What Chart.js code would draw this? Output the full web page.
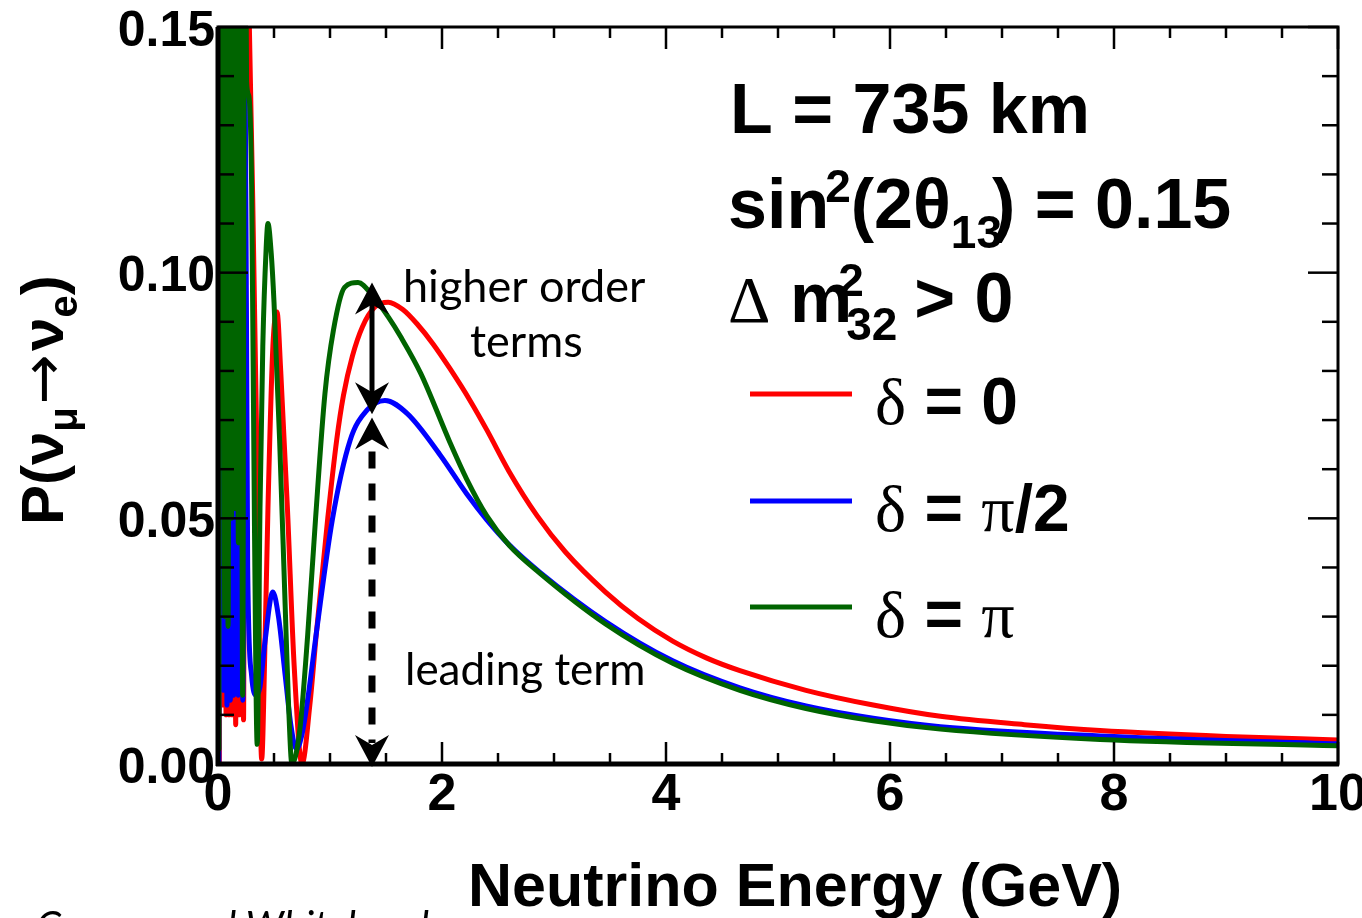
<!DOCTYPE html>
<html>
<head>
<meta charset="utf-8">
<script src="https://cdn.jsdelivr.net/npm/chart.js@4.4.1/dist/chart.umd.min.js"></script>
<style>
  html, body { margin: 0; padding: 0; background: #fff; }
  #wrap { width: 1362px; height: 918px; }
</style>
</head>
<body>
<div id="wrap"><canvas id="osc"></canvas></div>
<script>
// neutrino energy (GeV) and appearance probability
const redE = [0.012, 0.025, 0.040, 0.058, 0.072, 0.088, 0.100, 0.115, 0.128, 0.142,
              0.158, 0.172, 0.190, 0.207, 0.228, 0.245, 0.280, 0.310, 0.350, 0.390,
              0.420, 0.446, 0.490, 0.527, 0.560, 0.620, 0.680, 0.750, 0.820, 0.880,
              0.980, 1.060, 1.120, 1.200, 1.290, 1.400, 1.520, 1.650, 1.780, 1.920,
              2.070, 2.250, 2.400, 2.600, 2.850, 3.100, 3.460, 3.750, 4.060, 4.360,
              4.660, 5.250, 5.850, 6.450, 7.200, 7.875, 9.000, 10.00];
const redP = [0.000, 0.200, 0.012, 0.200, 0.010, 0.200, 0.010, 0.200, 0.010, 0.200,
              0.008, 0.200, 0.010, 0.200, 0.009, 0.200, 0.150, 0.115, 0.060, 0.001,
              0.025, 0.052, 0.085, 0.092, 0.080, 0.052, 0.020, 0.000, 0.012, 0.027,
              0.050, 0.066, 0.075, 0.083, 0.089, 0.093, 0.094, 0.0925, 0.0895, 0.0855,
              0.0805, 0.0740, 0.0680, 0.0595, 0.0505, 0.0432, 0.0350, 0.0296, 0.0250, 0.0216,
              0.0190, 0.0150, 0.0120, 0.0097, 0.0080, 0.0068, 0.0056, 0.0049];

const blueE = [0.008, 0.015, 0.025, 0.035, 0.050, 0.065, 0.080, 0.095, 0.110, 0.125,
               0.140, 0.160, 0.180, 0.200, 0.222, 0.240, 0.265, 0.300, 0.340, 0.375,
               0.420, 0.490, 0.540, 0.600, 0.650, 0.700, 0.750, 0.800, 0.880, 1.020,
               1.180, 1.330, 1.490, 1.690, 1.980, 2.220, 2.400, 2.600, 2.875, 3.460,
               4.060, 4.660, 5.250, 5.850, 6.450, 7.875, 10.00];
const blueP = [0.000, 0.200, 0.066, 0.200, 0.015, 0.200, 0.012, 0.200, 0.013, 0.200,
               0.014, 0.200, 0.014, 0.200, 0.013, 0.150, 0.040, 0.018, 0.014, 0.0157,
               0.025, 0.035, 0.030, 0.018, 0.008, 0.003, 0.006, 0.013, 0.027, 0.0496,
               0.0659, 0.072, 0.074, 0.0713, 0.0630, 0.0550, 0.0497, 0.0446, 0.0390, 0.0290,
               0.0210, 0.0155, 0.0118, 0.0093, 0.0076, 0.0057, 0.0041];

const greenE = [0.008, 0.018, 0.032, 0.045, 0.060, 0.075, 0.090, 0.105, 0.120, 0.135,
                0.150, 0.165, 0.182, 0.200, 0.220, 0.240, 0.255, 0.275, 0.300, 0.325,
                0.350, 0.375, 0.400, 0.430, 0.446, 0.475, 0.500, 0.550, 0.600, 0.630,
                0.660, 0.730, 0.800, 0.870, 0.955, 1.030, 1.130, 1.250, 1.375, 1.520,
                1.630, 1.810, 2.070, 2.220, 2.400, 2.600, 2.875, 3.460, 4.060, 4.660,
                5.250, 5.850, 6.450, 7.875, 10.00];
const greenP = [0.003, 0.200, 0.095, 0.200, 0.030, 0.200, 0.028, 0.200, 0.050, 0.200,
                0.052, 0.200, 0.045, 0.200, 0.014, 0.200, 0.139, 0.136, 0.118, 0.050,
                0.004, 0.052, 0.085, 0.105, 0.110, 0.104, 0.094, 0.066, 0.032, 0.012,
                0.000, 0.0069, 0.026, 0.0496, 0.0754, 0.0882, 0.097, 0.098, 0.0955, 0.091,
                0.087, 0.0795, 0.0655, 0.0580, 0.0505, 0.0445, 0.0388, 0.0285, 0.0205, 0.0150,
                0.0113, 0.0088, 0.0071, 0.0050, 0.0037];

const xTickVals = [0, 2, 4, 6, 8, 10];
const xTickLabels = ['0', '2', '4', '6', '8', '10'];
const yTickVals = [0, 0.05, 0.10, 0.15];
const yTickLabels = ['0.00', '0.05', '0.10', '0.15'];

// where the two arrows sit (GeV, probability)
const arrowE = 1.375;
const solidArrow = [0.098, 0.0712];
const dashedArrow = [0.0705, -0.0006];

const SANS = '"Liberation Sans", Arial, sans-serif';
const SERIF = '"Liberation Serif", "Times New Roman", serif';
const GILL = 'Lato, "Open Sans", sans-serif';

function toPoints(xs, ys) {
    return xs.map((v, i) => ({ x: v, y: ys[i] }));
}

function rich(ctx, x, y, parts) {
    let cx = x;
    parts.forEach(p => {
        ctx.font = p.f;
        const dx = p.dx || 0;
        ctx.fillText(p.t, cx + dx, y + (p.dy || 0));
        cx += dx + ctx.measureText(p.t).width + (p.adv || 0);
    });
    return cx;
}

function arrowHead(ctx, x, yTip, dir) {
    // dir = -1 points up, +1 points down
    const L = 32, W = 17, N = 22;
    ctx.beginPath();
    ctx.moveTo(x, yTip);
    ctx.lineTo(x - W, yTip - dir * L);
    ctx.lineTo(x, yTip - dir * N);
    ctx.lineTo(x + W, yTip - dir * L);
    ctx.closePath();
    ctx.fill();
}

const frame = {
    id: 'frame',
    afterDatasetsDraw(chart) {
        const { ctx, chartArea: a, scales: { x, y } } = chart;
        ctx.save();
        ctx.strokeStyle = '#000';
        ctx.lineWidth = 2.5;
        const seg = (x1, y1, x2, y2) => {
            ctx.beginPath(); ctx.moveTo(x1, y1); ctx.lineTo(x2, y2); ctx.stroke();
        };
        for (let i = 0; i <= 20; i++) {
            const px = x.getPixelForValue(i * 0.5);
            const len = i % 4 === 0 ? 22 : 11;
            seg(px, a.bottom, px, a.bottom - len);
            seg(px, a.top, px, a.top + len);
        }
        for (let i = 0; i <= 15; i++) {
            const py = y.getPixelForValue(i * 0.01);
            const len = i % 5 === 0 ? 30 : 16;
            seg(a.left, py, a.left + len, py);
            seg(a.right, py, a.right - len, py);
        }
        ctx.lineWidth = 3;
        ctx.strokeRect(a.left, a.top, a.right - a.left, a.bottom - a.top);
        ctx.lineWidth = 5;
        seg(a.left - 2, a.bottom, a.right + 1, a.bottom);
        seg(a.left, a.top, a.left, a.bottom + 2);
        ctx.restore();
    },
    afterDraw(chart) {
        const { ctx, scales: { x, y } } = chart;
        ctx.save();
        ctx.fillStyle = '#000';
        ctx.strokeStyle = '#000';
        ctx.textBaseline = 'alphabetic';
        ctx.textAlign = 'left';

        // arrows
        const ax = x.getPixelForValue(arrowE);
        const s1 = y.getPixelForValue(solidArrow[0]), s2 = y.getPixelForValue(solidArrow[1]);
        ctx.lineWidth = 5;
        ctx.beginPath(); ctx.moveTo(ax, s1 + 20); ctx.lineTo(ax, s2 - 20); ctx.stroke();
        arrowHead(ctx, ax, s1, -1);
        arrowHead(ctx, ax, s2, 1);
        const d1 = y.getPixelForValue(dashedArrow[0]), d2 = y.getPixelForValue(dashedArrow[1]);
        ctx.lineWidth = 7;
        ctx.setLineDash([17, 15]);
        ctx.beginPath(); ctx.moveTo(ax, d1 + 34); ctx.lineTo(ax, d2 - 24); ctx.stroke();
        ctx.setLineDash([]);
        arrowHead(ctx, ax, d1, -1);
        arrowHead(ctx, ax, d2, 1);

        // annotation texts
        ctx.font = '45px ' + GILL;
        ctx.fillText('higher order', 403, 302);
        ctx.fillText('terms', 470, 357);
        ctx.font = '44px ' + GILL;
        ctx.fillText('leading term', 405, 685);

        // parameters
        ctx.font = 'bold 70px ' + SANS;
        ctx.fillText('L = 735 km', 730, 133);
        rich(ctx, 728, 228, [
            { t: 'sin', f: 'bold 70px ' + SANS },
            { t: '2', f: 'bold 46px ' + SANS, dy: -26, dx: -4 },
            { t: '(2θ', f: 'bold 70px ' + SANS },
            { t: '13', f: 'bold 46px ' + SANS, dy: 20 },
            { t: ') = 0.15', f: 'bold 70px ' + SANS, dx: -10 }
        ]);
        const mEnd = rich(ctx, 728, 322, [
            { t: 'Δ', f: '66px ' + SERIF },
            { t: ' m', f: 'bold 70px ' + SANS }
        ]);
        ctx.font = 'bold 46px ' + SANS;
        ctx.fillText('2', mEnd - 14, 296);
        ctx.fillText('32', mEnd - 6, 340);
        ctx.font = 'bold 70px ' + SANS;
        ctx.fillText('> 0', mEnd + 62, 322);

        // legend
        const leg = [
            { c: '#ff0000', y: 394, parts: [{ t: 'δ', f: '66px ' + SERIF }, { t: ' = 0', f: 'bold 66px ' + SANS }] },
            { c: '#0000ff', y: 501, parts: [{ t: 'δ', f: '66px ' + SERIF }, { t: ' = ', f: 'bold 66px ' + SANS },
                                             { t: 'π', f: '66px ' + SERIF }, { t: '/2', f: 'bold 66px ' + SANS }] },
            { c: '#006400', y: 607, parts: [{ t: 'δ', f: '66px ' + SERIF }, { t: ' = ', f: 'bold 66px ' + SANS },
                                             { t: 'π', f: '66px ' + SERIF }] }
        ];
        leg.forEach(l => {
            ctx.strokeStyle = l.c;
            ctx.lineWidth = 5;
            ctx.beginPath(); ctx.moveTo(750, l.y); ctx.lineTo(852, l.y); ctx.stroke();
            rich(ctx, 875, l.y + 30, l.parts);
        });

        // axis titles
        ctx.font = 'bold 61px ' + SANS;
        ctx.fillText('Neutrino Energy (GeV)', 468, 906);
        ctx.save();
        ctx.translate(63, 525);
        ctx.rotate(-Math.PI / 2);
        rich(ctx, 0, 0, [
            { t: 'P(', f: 'bold 60px ' + SANS },
            { t: 'ν', f: 'bold 60px ' + SANS },
            { t: 'μ', f: 'bold 40px ' + SANS, dy: 14 },
            { t: '→', f: '60px "DejaVu Sans", sans-serif', dx: 3 },
            { t: 'ν', f: 'bold 60px ' + SANS, dx: 3 },
            { t: 'e', f: 'bold 40px ' + SANS, dy: 14 },
            { t: ')', f: 'bold 60px ' + SANS }
        ]);
        ctx.restore();

        // credit line cut off by the page edge
        ctx.font = 'italic 40px ' + GILL;
        ctx.fillText('Cervera and Whitehead', 36, 940);
        ctx.restore();
    }
};

new Chart(document.getElementById('osc'), {
    type: 'line',
    data: {
        datasets: [{
            label: 'δ = 0',
            data: toPoints(redE, redP),
            borderColor: '#ff0000',
            order: 3
        }, {
            label: 'δ = π/2',
            data: toPoints(blueE, blueP),
            borderColor: '#0000ff',
            order: 2
        }, {
            label: 'δ = π',
            data: toPoints(greenE, greenP),
            borderColor: '#006400',
            order: 1
        }]
    },
    options: {
        responsive: true,
        maintainAspectRatio: false,
        animation: false,
        devicePixelRatio: 1,
        layout: { padding: { top: 27, right: 24, left: 0, bottom: 0 } },
        elements: {
            point: { radius: 0 },
            line: {
                borderWidth: 5,
                cubicInterpolationMode: 'monotone',
                borderJoinStyle: 'round',
                borderCapStyle: 'round',
                fill: false
            }
        },
        plugins: { legend: { display: false }, tooltip: { enabled: false } },
        scales: {
            x: {
                type: 'linear',
                min: 0,
                max: 10,
                grid: { display: false, drawTicks: false },
                border: { display: false },
                afterBuildTicks: s => { s.ticks = xTickVals.map(v => ({ value: v })); },
                afterFit: s => { s.height = 154; s.paddingLeft = 0; s.paddingRight = 0; },
                ticks: {
                    callback: (v, i) => xTickLabels[i],
                    color: '#000',
                    font: { family: SANS, weight: 'bold', size: 52 },
                    padding: 0,
                    maxRotation: 0,
                    autoSkip: false
                }
            },
            y: {
                min: 0,
                max: 0.15,
                grid: { display: false, drawTicks: false },
                border: { display: false },
                afterBuildTicks: s => { s.ticks = yTickVals.map(v => ({ value: v })); },
                afterFit: s => { s.width = 218; s.paddingTop = 0; s.paddingBottom = 0; },
                ticks: {
                    callback: (v, i) => yTickLabels[i],
                    color: '#000',
                    font: { family: SANS, weight: 'bold', size: 50 },
                    padding: 3,
                    labelOffset: 5
                }
            }
        }
    },
    plugins: [frame]
});
</script>
</body>
</html>
